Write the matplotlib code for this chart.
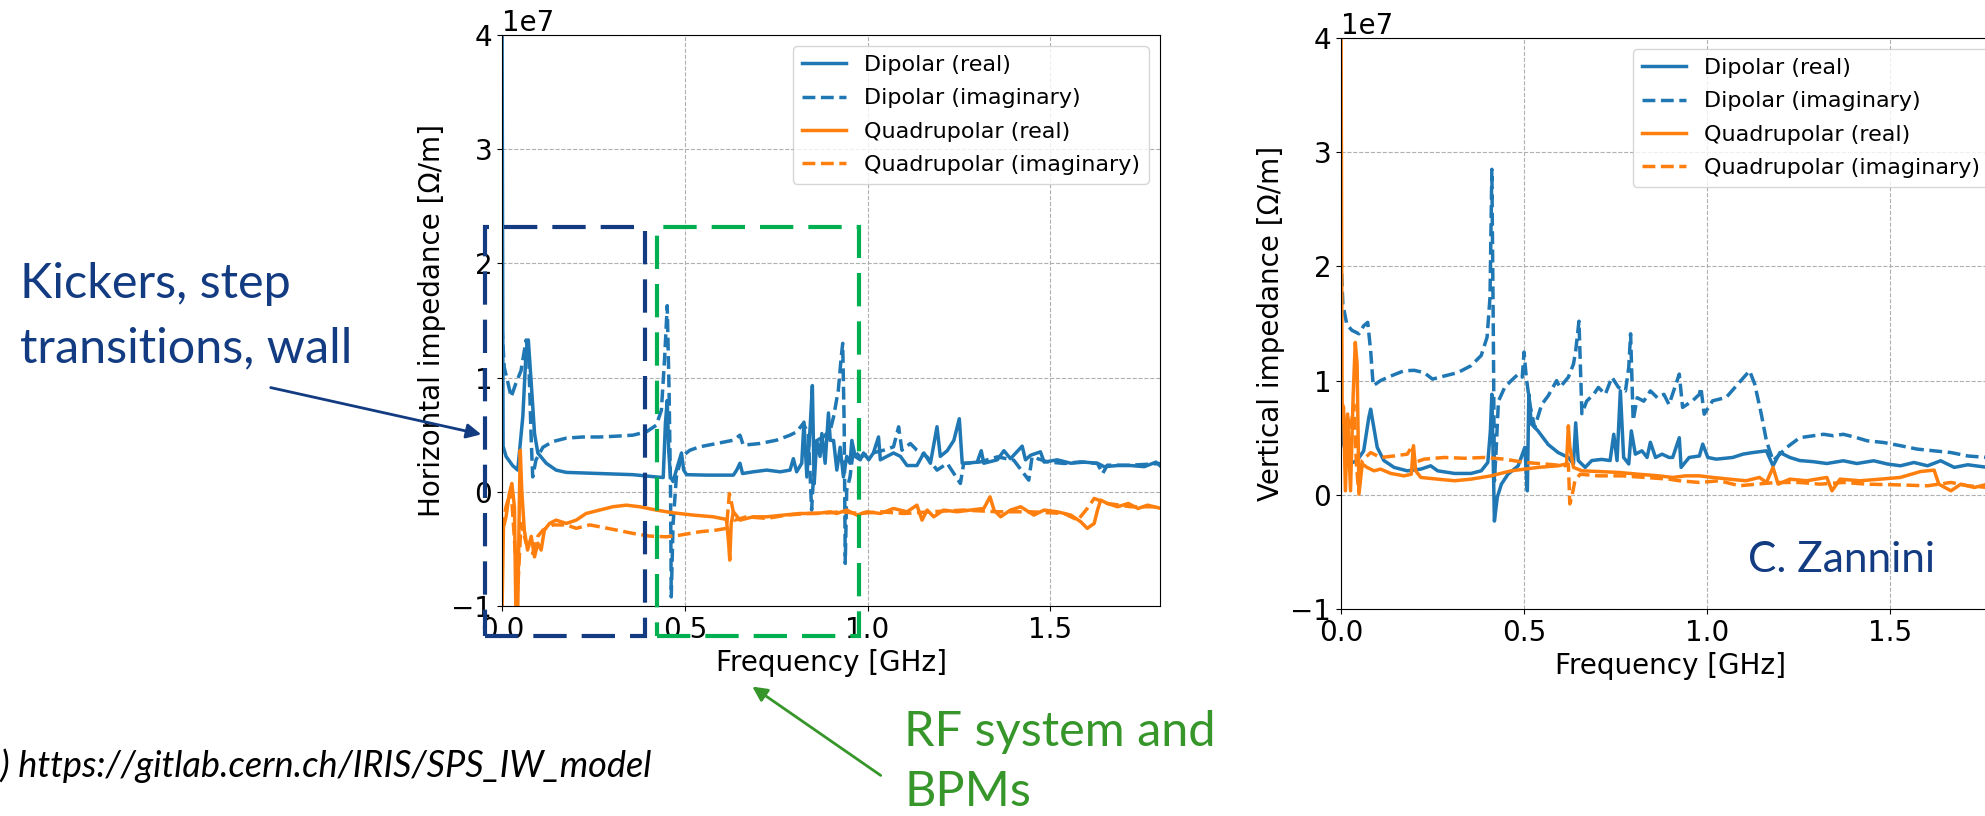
import numpy as np
import matplotlib.pyplot as plt
from matplotlib.patches import Rectangle, FancyArrowPatch

W, H = 1985, 816

# (frequency [GHz], impedance [1e7 Ohm/m])
# ------------------ horizontal plane ------------------
h_dip_re = [
    (0.000, 4.30), (0.003, 0.40), (0.011, 0.31), (0.029, 0.23), (0.043, 0.19),
    (0.057, 0.66), (0.066, 1.24), (0.072, 1.33), (0.080, 0.95), (0.089, 0.51),
    (0.098, 0.34), (0.121, 0.25), (0.148, 0.19), (0.176, 0.17), (0.267, 0.16),
    (0.358, 0.15), (0.422, 0.13), (0.441, 0.125), (0.447, 0.60), (0.452, 0.80),
    (0.456, 0.36), (0.461, 0.13), (0.468, 0.09), (0.477, 0.19), (0.491, 0.34),
    (0.497, 0.19), (0.505, 0.15), (0.560, 0.146), (0.633, 0.146), (0.642, 0.19),
    (0.651, 0.25), (0.658, 0.16), (0.687, 0.175), (0.724, 0.19), (0.761, 0.175),
    (0.788, 0.19), (0.797, 0.29), (0.806, 0.175), (0.820, 0.25), (0.826, 0.61),
    (0.834, 0.13), (0.843, 0.57), (0.849, 0.93), (0.854, 0.07), (0.861, 0.45),
    (0.870, 0.31), (0.875, 0.51), (0.884, 0.25), (0.893, 0.69), (0.898, 0.45),
    (0.907, 0.45), (0.916, 0.19), (0.925, 0.39), (0.934, 0.13), (0.943, 0.31),
    (0.952, 0.25), (0.957, 0.45), (0.966, 0.31), (0.980, 0.28), (0.989, 0.34),
    (1.003, 0.28), (1.016, 0.34), (1.030, 0.48), (1.035, 0.28), (1.053, 0.31),
    (1.071, 0.34), (1.090, 0.31), (1.108, 0.23), (1.135, 0.23), (1.154, 0.34),
    (1.172, 0.25), (1.190, 0.57), (1.199, 0.31), (1.218, 0.36), (1.236, 0.45),
    (1.251, 0.64), (1.259, 0.25), (1.272, 0.25), (1.300, 0.26), (1.311, 0.36),
    (1.318, 0.25), (1.355, 0.28), (1.373, 0.36), (1.391, 0.29), (1.423, 0.40),
    (1.432, 0.28), (1.446, 0.32), (1.473, 0.35), (1.483, 0.26), (1.519, 0.28),
    (1.556, 0.25), (1.592, 0.26), (1.629, 0.25), (1.647, 0.22), (1.684, 0.23),
    (1.720, 0.23), (1.757, 0.22), (1.789, 0.26), (1.803, 0.22),
]
h_dip_im = [
    (0.000, 1.45), (0.006, 1.09), (0.013, 1.00), (0.025, 0.83), (0.038, 0.95),
    (0.052, 1.06), (0.066, 1.33), (0.073, 1.18), (0.080, 0.45), (0.084, 0.13),
    (0.093, 0.28), (0.112, 0.39), (0.139, 0.44), (0.176, 0.47), (0.221, 0.48),
    (0.267, 0.48), (0.313, 0.487), (0.358, 0.496), (0.395, 0.525), (0.422, 0.583),
    (0.436, 0.714), (0.445, 1.18), (0.452, 1.63), (0.457, 0.89), (0.461, 0.015),
    (0.463, -0.92), (0.468, -0.28), (0.477, 0.13), (0.491, 0.306), (0.514, 0.364),
    (0.541, 0.394), (0.587, 0.423), (0.633, 0.452), (0.651, 0.496), (0.660, 0.408),
    (0.706, 0.423), (0.751, 0.452), (0.788, 0.496), (0.806, 0.525), (0.824, 0.598),
    (0.838, 0.51), (0.847, -0.16), (0.852, 0.13), (0.861, 0.45), (0.879, 0.48),
    (0.898, 0.54), (0.907, 0.656), (0.920, 0.889), (0.928, 1.18), (0.932, 1.30),
    (0.936, 0.60), (0.939, -0.627), (0.943, 0.015), (0.952, 0.13), (0.961, 0.364),
    (0.980, 0.306), (1.007, 0.335), (1.044, 0.364), (1.071, 0.394), (1.085, 0.569),
    (1.094, 0.364), (1.117, 0.423), (1.135, 0.364), (1.163, 0.306), (1.190, 0.19),
    (1.218, 0.248), (1.254, 0.073), (1.263, 0.248), (1.309, 0.262), (1.355, 0.306),
    (1.400, 0.277), (1.441, 0.102), (1.450, 0.306), (1.492, 0.262), (1.538, 0.248),
    (1.583, 0.262), (1.629, 0.248), (1.643, 0.16), (1.656, 0.233), (1.720, 0.233),
    (1.803, 0.248),
]
h_quad_re = [
    (0.000, -1.05), (0.004, -0.31), (0.011, -0.22), (0.020, -0.015), (0.027, 0.073),
    (0.034, -0.13), (0.038, -1.05), (0.043, -1.05), (0.048, 0.015), (0.050, 0.364),
    (0.054, 0.015), (0.061, -0.335), (0.070, -0.51), (0.080, -0.39), (0.089, -0.57),
    (0.098, -0.45), (0.107, -0.51), (0.116, -0.335), (0.130, -0.277), (0.148, -0.248),
    (0.176, -0.277), (0.203, -0.248), (0.230, -0.19), (0.267, -0.16), (0.303, -0.131),
    (0.340, -0.117), (0.377, -0.131), (0.422, -0.16), (0.468, -0.184), (0.523, -0.204),
    (0.578, -0.219), (0.614, -0.242), (0.620, -0.45), (0.623, -0.598), (0.627, -0.277),
    (0.633, -0.175), (0.651, -0.248), (0.687, -0.219), (0.724, -0.219), (0.770, -0.204),
    (0.815, -0.19), (0.861, -0.19), (0.898, -0.175), (0.916, -0.19), (0.943, -0.16),
    (0.971, -0.204), (0.998, -0.175), (1.035, -0.19), (1.071, -0.146), (1.108, -0.175),
    (1.135, -0.117), (1.149, -0.248), (1.163, -0.16), (1.181, -0.219), (1.208, -0.16),
    (1.245, -0.175), (1.282, -0.16), (1.318, -0.146), (1.335, -0.044), (1.346, -0.16),
    (1.364, -0.219), (1.391, -0.16), (1.419, -0.131), (1.455, -0.204), (1.483, -0.16),
    (1.519, -0.175), (1.556, -0.204), (1.583, -0.262), (1.601, -0.32), (1.620, -0.277),
    (1.629, -0.16), (1.638, -0.073), (1.656, -0.102), (1.684, -0.131), (1.713, -0.102),
    (1.740, -0.146), (1.766, -0.117), (1.803, -0.146),
]
h_quad_im = [
    (0.000, -0.335), (0.011, -0.13), (0.025, 0.015), (0.034, -0.42), (0.043, -0.86),
    (0.052, -0.277), (0.066, -0.45), (0.084, -0.54), (0.098, -0.39), (0.112, -0.335),
    (0.139, -0.29), (0.176, -0.29), (0.203, -0.32), (0.240, -0.29), (0.267, -0.306),
    (0.313, -0.335), (0.358, -0.364), (0.404, -0.388), (0.450, -0.394), (0.486, -0.38),
    (0.541, -0.35), (0.587, -0.335), (0.614, -0.32), (0.622, -0.015), (0.628, -0.10),
    (0.637, -0.248), (0.669, -0.219), (0.724, -0.233), (0.779, -0.204), (0.834, -0.19),
    (0.898, -0.184), (0.925, -0.175), (0.980, -0.19), (1.035, -0.175), (1.100, -0.19),
    (1.172, -0.175), (1.263, -0.16), (1.355, -0.175), (1.446, -0.175), (1.538, -0.19),
    (1.575, -0.248), (1.601, -0.146), (1.620, -0.058), (1.656, -0.102), (1.720, -0.131),
    (1.803, -0.131),
]

# ------------------ vertical plane ------------------
v_dip_re = [
    (0.000, 0.85), (0.005, 0.47), (0.016, 0.33), (0.030, 0.28), (0.044, 0.30),
    (0.062, 0.385), (0.076, 0.677), (0.081, 0.75), (0.088, 0.62), (0.099, 0.415),
    (0.117, 0.30), (0.145, 0.24), (0.181, 0.21), (0.218, 0.225), (0.245, 0.254),
    (0.264, 0.21), (0.310, 0.187), (0.355, 0.187), (0.383, 0.21), (0.401, 0.283),
    (0.408, 0.56), (0.412, 0.88), (0.416, 0.27), (0.419, -0.23), (0.427, -0.02),
    (0.438, 0.093), (0.456, 0.18), (0.484, 0.254), (0.502, 0.415), (0.509, 0.035),
    (0.513, 0.88), (0.520, 0.62), (0.538, 0.56), (0.566, 0.44), (0.593, 0.37),
    (0.621, 0.327), (0.635, 0.27), (0.641, 0.63), (0.648, 0.30), (0.667, 0.24),
    (0.685, 0.30), (0.712, 0.31), (0.735, 0.30), (0.745, 0.53), (0.754, 0.30),
    (0.763, 0.91), (0.772, 0.327), (0.786, 0.27), (0.793, 0.56), (0.804, 0.356),
    (0.822, 0.385), (0.836, 0.327), (0.845, 0.46), (0.859, 0.327), (0.877, 0.356),
    (0.896, 0.327), (0.906, 0.327), (0.924, 0.50), (0.929, 0.24), (0.951, 0.327),
    (0.979, 0.34), (0.988, 0.444), (1.002, 0.327), (1.025, 0.312), (1.070, 0.327),
    (1.098, 0.356), (1.125, 0.37), (1.162, 0.385), (1.180, 0.254), (1.199, 0.37),
    (1.226, 0.327), (1.253, 0.30), (1.290, 0.29), (1.327, 0.274), (1.372, 0.298),
    (1.409, 0.274), (1.455, 0.298), (1.492, 0.27), (1.528, 0.254), (1.565, 0.283),
    (1.602, 0.254), (1.638, 0.298), (1.675, 0.24), (1.712, 0.263), (1.766, 0.24),
    (1.800, 0.24),
]
v_dip_im = [
    (0.000, 2.10), (0.005, 1.67), (0.016, 1.49), (0.030, 1.44), (0.049, 1.41),
    (0.062, 1.48), (0.073, 1.51), (0.081, 1.26), (0.088, 0.955), (0.108, 1.00),
    (0.136, 1.04), (0.172, 1.086), (0.200, 1.09), (0.227, 1.07), (0.250, 1.013),
    (0.282, 1.04), (0.319, 1.07), (0.355, 1.13), (0.383, 1.22), (0.399, 1.38),
    (0.407, 1.73), (0.412, 2.85), (0.416, 1.44), (0.419, 0.12), (0.424, 0.41),
    (0.430, 0.82), (0.447, 0.94), (0.465, 1.00), (0.484, 1.057), (0.495, 1.03),
    (0.500, 1.25), (0.506, 1.03), (0.516, 0.79), (0.529, 0.59), (0.548, 0.79),
    (0.566, 0.867), (0.589, 1.00), (0.598, 0.94), (0.621, 1.03), (0.635, 1.145),
    (0.641, 1.26), (0.650, 1.52), (0.658, 0.71), (0.671, 0.82), (0.690, 0.88),
    (0.703, 0.94), (0.722, 0.88), (0.740, 1.03), (0.758, 0.94), (0.777, 0.91),
    (0.786, 1.115), (0.791, 1.41), (0.798, 0.65), (0.809, 0.85), (0.827, 0.82),
    (0.845, 0.91), (0.864, 0.85), (0.882, 0.88), (0.896, 0.79), (0.924, 1.057),
    (0.933, 0.765), (0.960, 0.823), (0.979, 0.88), (0.983, 0.94), (0.992, 0.706),
    (1.015, 0.823), (1.052, 0.852), (1.088, 0.984), (1.116, 1.086), (1.130, 0.97),
    (1.148, 0.706), (1.162, 0.473), (1.180, 0.298), (1.199, 0.356), (1.217, 0.414),
    (1.253, 0.50), (1.290, 0.517), (1.318, 0.53), (1.345, 0.517), (1.372, 0.53),
    (1.409, 0.50), (1.437, 0.473), (1.482, 0.458), (1.528, 0.43), (1.574, 0.40),
    (1.620, 0.385), (1.666, 0.37), (1.712, 0.34), (1.766, 0.327), (1.800, 0.32),
]
v_quad_re = [
    (0.000, 4.30), (0.003, 0.80), (0.007, 0.765), (0.012, 0.035), (0.018, 0.707),
    (0.026, 0.035), (0.033, 0.85), (0.039, 1.334), (0.044, 1.145), (0.049, 0.006),
    (0.058, 0.27), (0.071, 0.24), (0.090, 0.21), (0.108, 0.225), (0.136, 0.187),
    (0.172, 0.166), (0.192, 0.18), (0.198, 0.43), (0.204, 0.21), (0.218, 0.152),
    (0.264, 0.137), (0.310, 0.123), (0.355, 0.137), (0.410, 0.166), (0.465, 0.21),
    (0.538, 0.24), (0.593, 0.254), (0.616, 0.27), (0.621, 0.604), (0.625, 0.415),
    (0.635, 0.24), (0.658, 0.21), (0.703, 0.204), (0.758, 0.196), (0.813, 0.18),
    (0.868, 0.166), (0.906, 0.152), (0.942, 0.166), (0.979, 0.166), (1.015, 0.152),
    (1.061, 0.137), (1.106, 0.123), (1.143, 0.152), (1.162, 0.108), (1.180, 0.24),
    (1.194, 0.093), (1.226, 0.137), (1.272, 0.123), (1.327, 0.152), (1.341, 0.035),
    (1.363, 0.137), (1.418, 0.123), (1.473, 0.137), (1.528, 0.152), (1.583, 0.204),
    (1.620, 0.216), (1.633, 0.093), (1.666, 0.035), (1.693, 0.093), (1.730, 0.064),
    (1.766, 0.093), (1.800, 0.08),
]
v_quad_im = [
    (0.000, 0.88), (0.009, 0.56), (0.016, 0.71), (0.026, 0.56), (0.035, 0.79),
    (0.042, 0.27), (0.048, 0.035), (0.058, 0.30), (0.081, 0.37), (0.108, 0.327),
    (0.145, 0.34), (0.181, 0.356), (0.195, 0.43), (0.201, 0.283), (0.227, 0.312),
    (0.282, 0.327), (0.337, 0.32), (0.392, 0.327), (0.447, 0.312), (0.502, 0.283),
    (0.557, 0.27), (0.612, 0.254), (0.621, 0.27), (0.625, -0.08), (0.630, -0.023),
    (0.639, 0.123), (0.653, 0.18), (0.703, 0.166), (0.767, 0.166), (0.831, 0.152),
    (0.896, 0.137), (0.924, 0.123), (0.979, 0.108), (1.034, 0.123), (1.088, 0.079),
    (1.134, 0.093), (1.189, 0.108), (1.253, 0.108), (1.308, 0.093), (1.372, 0.108),
    (1.437, 0.093), (1.510, 0.088), (1.602, 0.079), (1.666, 0.108), (1.712, 0.079),
    (1.766, 0.064), (1.800, 0.06),
]

labels = ["Dipolar (real)", "Dipolar (imaginary)", "Quadrupolar (real)", "Quadrupolar (imaginary)"]
colors = ["#1f77b4", "#1f77b4", "#ff7f0e", "#ff7f0e"]
styles = ["-", "--", "-", "--"]

dark_blue = "#123b82"
green_box = "#00b050"
green_txt = "#36962a"


def fx(x):
    return x / W


def fy(y):
    return 1 - y / H


def draw_panel(ax, series, ylabel):
    for pts, lab, col, ls in zip(series, labels, colors, styles):
        f, v = zip(*pts)
        ax.plot(f, np.array(v) * 1e7, ls, color=col, lw=2.5, label=lab)
    ax.set_xlim(0, 1.8)
    ax.set_ylim(-1e7, 4e7)
    ax.set_xticks([0.0, 0.5, 1.0, 1.5])
    ax.set_yticks([-1e7, 0, 1e7, 2e7, 3e7, 4e7])
    ax.tick_params(labelsize=20)
    ax.yaxis.get_offset_text().set_fontsize(20)
    ax.grid(True, linestyle="--", color="#b0b0b0", linewidth=0.8)
    ax.set_xlabel("Frequency [GHz]", fontsize=20)
    ax.set_ylabel(ylabel, fontsize=20)
    ax.legend(loc="upper right", fontsize=16, labelspacing=0.6)


fig = plt.figure(figsize=(W / 100, H / 100), dpi=100)

ax1 = fig.add_axes([fx(502), fy(606), 658 / W, 571 / H])
draw_panel(ax1, [h_dip_re, h_dip_im, h_quad_re, h_quad_im], "Horizontal impedance [Ω/m]")

# right panel runs past the edge of the slide
ax2 = fig.add_axes([fx(1341), fy(609), 659 / W, 571 / H])
draw_panel(ax2, [v_dip_re, v_dip_im, v_quad_re, v_quad_im], "Vertical impedance [Ω/m]")

# ------------------ annotations ------------------
fig.add_artist(Rectangle((fx(485), fy(636)), 160 / W, 409 / H, transform=fig.transFigure,
                         fill=False, ec=dark_blue, lw=3, ls=(0, (8, 3.6)), zorder=5))
fig.add_artist(Rectangle((fx(657), fy(636)), 202 / W, 409 / H, transform=fig.transFigure,
                         fill=False, ec=green_box, lw=3, ls=(0, (8, 3.6)), zorder=5))

fig.text(fx(20), fy(298), "Kickers, step", fontsize=35, family="Lato", color=dark_blue, va="baseline")
fig.text(fx(20), fy(362), "transitions, wall", fontsize=35, family="Lato", color=dark_blue, va="baseline")
fig.add_artist(FancyArrowPatch((fx(268), fy(387)), (fx(484), fy(435)), transform=fig.transFigure,
                               arrowstyle="-|>", mutation_scale=22, lw=2, color=dark_blue, zorder=6))

fig.text(fx(904), fy(746), "RF system and", fontsize=35, family="Lato", color=green_txt, va="baseline")
fig.text(fx(904), fy(806), "BPMs", fontsize=35, family="Lato", color=green_txt, va="baseline")
fig.add_artist(FancyArrowPatch((fx(883), fy(777)), (fx(750), fy(685)), transform=fig.transFigure,
                               arrowstyle="-|>", mutation_scale=22, lw=2, color=green_txt, zorder=6))

fig.text(fx(1748), fy(572), "C. Zannini", fontsize=30.5, family="Lato", color=dark_blue, va="baseline")

fig.text(fx(651), fy(777), "(1) https://gitlab.cern.ch/IRIS/SPS_IW_model", fontsize=26,
         family="Lato", style="italic", color="black", ha="right", va="baseline")

fig.savefig("out.png", dpi=100)
